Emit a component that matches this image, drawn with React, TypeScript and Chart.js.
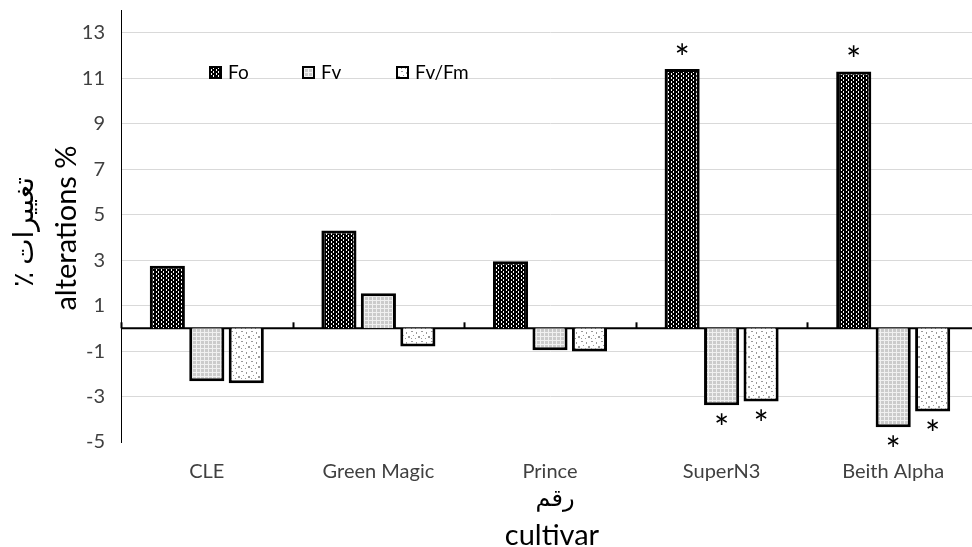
import { useEffect, useRef } from "react";
import { Chart, registerables } from "chart.js";

Chart.register(...registerables);

const categories = ["CLE", "Green Magic", "Prince", "SuperN3", "Beith Alpha"];
const seriesNames = ["Fo", "Fv", "Fv/Fm"];
const foValues = [2.75, 4.3, 2.95, 11.4, 11.3];
const fvValues = [-2.33, 1.54, -0.97, -3.38, -4.35];
const fvFmValues = [-2.42, -0.8, -1.02, -3.22, -3.66];
const foSignificant = [false, false, false, true, true];
const fvSignificant = [false, false, false, true, true];
const fvFmSignificant = [false, false, false, true, true];
const yTickValues = [-5, -3, -1, 1, 3, 5, 7, 9, 11, 13];
const yMin = -5;
const yMax = 14;
const yTitleFa = "تغییرات ٪";
const yTitleEn = "alterations %";
const xTitleFa = "رقم";
const xTitleEn = "cultivar";

const FONT = '"Lato", "DejaVu Sans", sans-serif';

function makePattern(kind: string): CanvasPattern | string {
  const c = document.createElement("canvas");
  const g = c.getContext("2d");
  if (!g) return "#888";
  if (kind === "fo") {
    c.width = 5;
    c.height = 4;
    g.fillStyle = "#000";
    g.fillRect(0, 0, 5, 4);
    g.fillStyle = "#fff";
    g.fillRect(1, 1, 1, 2);
    g.fillRect(3, 0, 1, 1);
    g.fillRect(3, 3, 1, 1);
  } else if (kind === "fv") {
    c.width = 4;
    c.height = 4;
    g.fillStyle = "#cbcbcb";
    g.fillRect(0, 0, 4, 4);
    g.fillStyle = "#f0f0f0";
    g.fillRect(0, 0, 4, 1);
    g.fillRect(0, 0, 1, 4);
  } else {
    c.width = 10;
    c.height = 10;
    g.fillStyle = "#fff";
    g.fillRect(0, 0, 10, 10);
    g.fillStyle = "#9a9a9a";
    g.fillRect(1, 1, 2, 1);
    g.fillRect(6, 2, 1, 2);
    g.fillRect(3, 5, 1, 1);
    g.fillRect(8, 6, 2, 2);
    g.fillRect(1, 8, 1, 1);
    g.fillRect(5, 8, 1, 1);
  }
  const p = g.createPattern(c, "repeat");
  return p || "#888";
}

export default function App() {
  const ref = useRef<HTMLCanvasElement | null>(null);

  useEffect(() => {
    const canvas = ref.current;
    if (!canvas) return;
    const patterns = [makePattern("fo"), makePattern("fv"), makePattern("fvfm")];
    const sig = [foSignificant, fvSignificant, fvFmSignificant];

    const overlay = {
      id: "overlay",
      afterDatasetsDraw(chart: any) {
        const ctx = chart.ctx;
        const area = chart.chartArea;
        const ys = chart.scales.y;
        const y0 = ys.getPixelForValue(0);
        ctx.save();
        // category tick marks on the zero axis
        ctx.strokeStyle = "#000";
        ctx.lineWidth = 2;
        const step = (area.right - area.left) / categories.length;
        for (let i = 0; i <= categories.length; i++) {
          const x = Math.round(area.left + step * i) + 0.5;
          ctx.beginPath();
          ctx.moveTo(x, y0 - 6);
          ctx.lineTo(x, y0);
          ctx.stroke();
        }
        // asterisks
        ctx.fillStyle = "#000";
        ctx.font = `36px ${FONT}`;
        ctx.textAlign = "center";
        ctx.textBaseline = "middle";
        chart.data.datasets.forEach((ds: any, di: number) => {
          const meta = chart.getDatasetMeta(di);
          meta.data.forEach((bar: any, i: number) => {
            if (!sig[di][i]) return;
            const v = ds.data[i];
            const yy = v >= 0 ? bar.y - 17 : bar.y + 17;
            ctx.fillText("*", bar.x, yy + 7);
          });
        });
        // legend
        const legendX = [209, 302, 396];
        const legendY = 66;
        ctx.font = `19px ${FONT}`;
        ctx.textAlign = "left";
        ctx.textBaseline = "middle";
        seriesNames.forEach((name, i) => {
          const lx = legendX[i];
          ctx.fillStyle = patterns[i] as any;
          ctx.fillRect(lx, legendY, 13, 13);
          ctx.strokeStyle = "#000";
          ctx.lineWidth = 2;
          ctx.strokeRect(lx + 1, legendY + 1, 11, 11);
          ctx.fillStyle = "#000";
          ctx.fillText(name, lx + 19, legendY + 7);
        });
        // axis titles
        ctx.fillStyle = "#000";
        ctx.textAlign = "center";
        ctx.textBaseline = "middle";
        ctx.save();
        ctx.translate(24, 232);
        ctx.rotate(-Math.PI / 2);
        ctx.direction = "rtl";
        ctx.font = `28px ${FONT}`;
        ctx.fillText(yTitleFa, 0, 0);
        ctx.restore();
        ctx.save();
        ctx.translate(67, 228);
        ctx.rotate(-Math.PI / 2);
        ctx.font = `29px ${FONT}`;
        ctx.fillText(yTitleEn, 0, 0);
        ctx.restore();
        ctx.save();
        ctx.direction = "rtl";
        ctx.font = `24px ${FONT}`;
        ctx.fillText(xTitleFa, 555, 498);
        ctx.restore();
        ctx.font = `29px ${FONT}`;
        ctx.fillText(xTitleEn, 552, 536);
        ctx.restore();
      },
    };

    const chart = new Chart(canvas, {
      type: "bar",
      data: {
        labels: categories,
        datasets: [foValues, fvValues, fvFmValues].map((vals, i) => ({
          label: seriesNames[i],
          data: vals,
          backgroundColor: patterns[i] as any,
          borderColor: "#000",
          borderWidth: 3,
          categoryPercentage: 0.69,
          barPercentage: 0.89,
        })),
      },
      options: {
        responsive: false,
        animation: false,
        layout: { padding: { top: 10, left: 0, right: 0, bottom: 0 } },
        plugins: {
          legend: { display: false },
          tooltip: { enabled: false },
        },
        scales: {
          x: {
            grid: { display: false },
            border: { display: false },
            ticks: {
              color: "#404040",
              font: { family: FONT, size: 20 },
              padding: 10,
            },
            afterFit(scale: any) {
              scale.height = 105;
              scale.paddingLeft = 0;
              scale.paddingRight = 0;
            },
          },
          y: {
            min: yMin,
            max: yMax,
            afterBuildTicks(scale: any) {
              scale.ticks = yTickValues.map((v) => ({ value: v }));
            },
            afterFit(scale: any) {
              scale.width = 121;
              scale.paddingTop = 0;
              scale.paddingBottom = 0;
            },
            border: { display: true, color: "#000", width: 1 },
            grid: {
              drawTicks: false,
              color: (c: any) =>
                c.tick && c.tick.value === -5 ? "rgba(0,0,0,0)" : "#d9d9d9",
              lineWidth: 1,
            },
            ticks: {
              color: "#404040",
              font: { family: FONT, size: 20 },
              padding: 16,
            },
          },
        },
      },
      plugins: [
        overlay,
        {
          id: "zeroLine",
          beforeDatasetsDraw(chart: any) {
            const ctx = chart.ctx;
            const a = chart.chartArea;
            const y0 = chart.scales.y.getPixelForValue(0);
            ctx.save();
            ctx.strokeStyle = "#000";
            ctx.lineWidth = 2;
            ctx.beginPath();
            ctx.moveTo(a.left, y0);
            ctx.lineTo(a.right, y0);
            ctx.stroke();
            ctx.restore();
          },
        },
      ],
    });
    return () => chart.destroy();
  }, []);

  return (
    <div style={{ position: "fixed", left: 0, top: 0, width: 972, height: 547, overflow: "hidden", background: "#fff" }}>
      <canvas ref={ref} width={979} height={547} style={{ display: "block" }} />
    </div>
  );
}
